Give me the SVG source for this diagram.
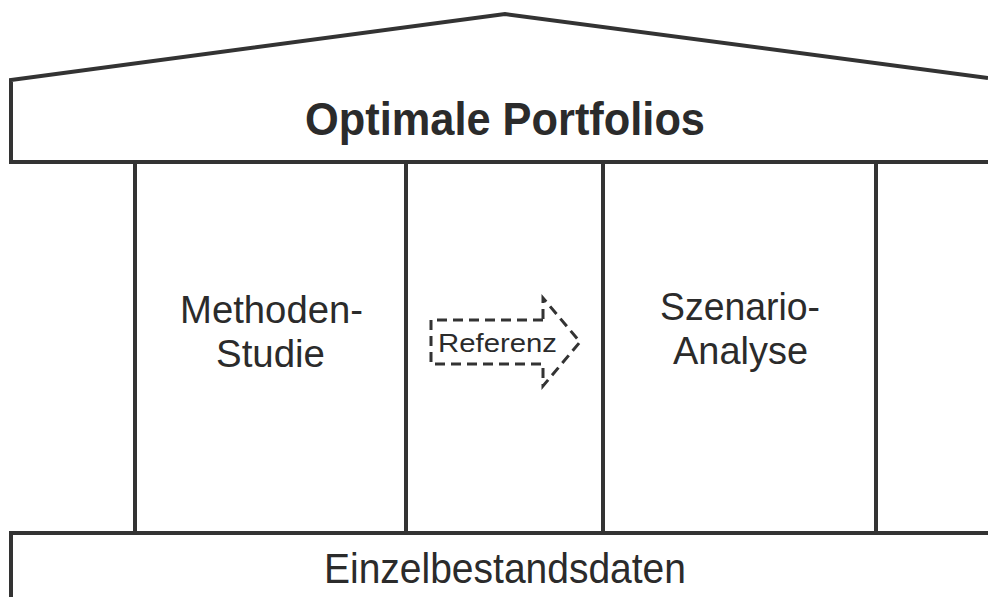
<svg xmlns="http://www.w3.org/2000/svg" width="988" height="597" viewBox="0 0 988 597">
<style>
.ln{fill:none;stroke:#333;stroke-width:4;stroke-linejoin:miter}
.t{font-family:"Liberation Sans",Arial,sans-serif;fill:#2b2b2b;text-anchor:middle}
</style>
<rect width="988" height="597" fill="#fff"/>
<g id="roof">
<path class="ln" d="M988,78 L505,14 L11,80 L11,162 L988,162"/>
<text class="t" x="505" y="135" font-size="47" font-weight="bold" textLength="400" lengthAdjust="spacingAndGlyphs">Optimale Portfolios</text>
</g>
<g id="columns">
<line class="ln" x1="135" y1="162" x2="135" y2="532"/>
<line class="ln" x1="406" y1="162" x2="406" y2="532"/>
<line class="ln" x1="603" y1="162" x2="603" y2="532"/>
<line class="ln" x1="876" y1="162" x2="876" y2="532"/>
</g>
<g id="methoden">
<text class="t" x="271.5" y="323" font-size="39" textLength="183" lengthAdjust="spacingAndGlyphs">Methoden-</text>
<text class="t" x="270.5" y="367" font-size="39" textLength="109" lengthAdjust="spacingAndGlyphs">Studie</text>
</g>
<g id="szenario">
<text class="t" x="740" y="320" font-size="39" textLength="160" lengthAdjust="spacingAndGlyphs">Szenario-</text>
<text class="t" x="740.5" y="364" font-size="39" textLength="135" lengthAdjust="spacingAndGlyphs">Analyse</text>
</g>
<g id="connectors">
<g id="referenz">
<path d="M543,320 L431,320 L431,364 L543,364 L543,386 L580,342 L543,298 Z" fill="none" stroke="#333" stroke-width="3" stroke-dasharray="10,6"/>
<text class="t" x="497.5" y="352" font-size="26" textLength="119" lengthAdjust="spacingAndGlyphs">Referenz</text>
</g>
</g>
<g id="base">
<path class="ln" d="M11,597 L11,533 L988,533"/>
<text class="t" x="505" y="583" font-size="42" textLength="362" lengthAdjust="spacingAndGlyphs">Einzelbestandsdaten</text>
</g>
</svg>
